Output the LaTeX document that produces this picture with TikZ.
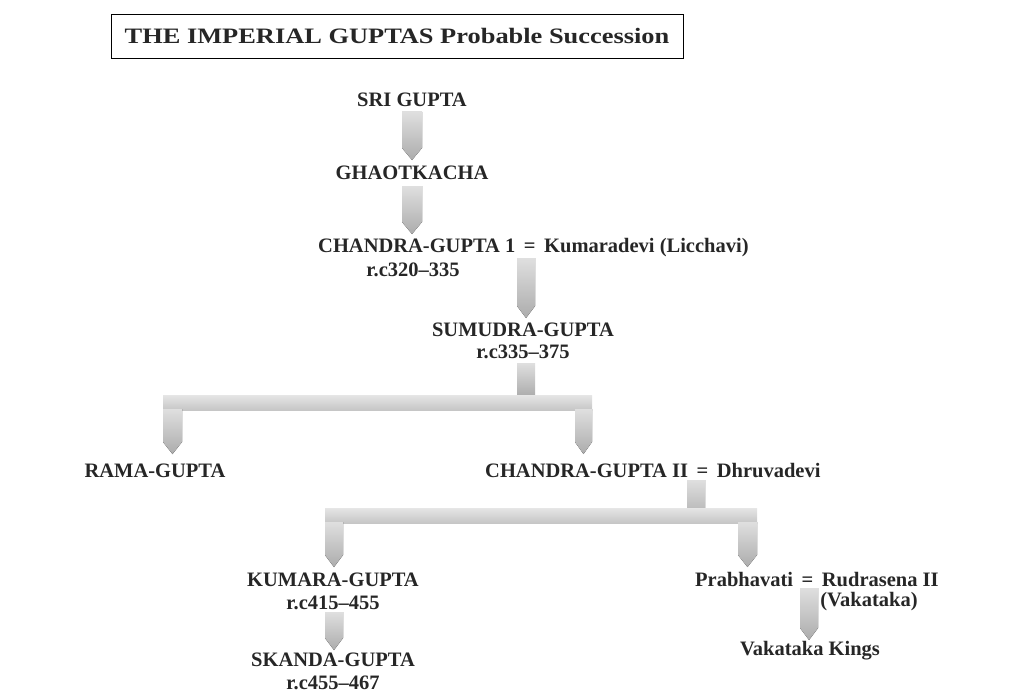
\documentclass[tikz,border=0pt]{standalone}
\usepackage{fontspec}
\setmainfont{Liberation Serif}
\newfontfamily\titlefont[FakeStretch=1.2]{Liberation Serif}
\begin{document}
\begin{tikzpicture}[x=1pt,y=-1pt,
  lbl/.style={font=\bfseries\fontsize{20.5}{22}\selectfont,inner sep=0pt,text=black!85},
  arr/.style={top color=gray!25,bottom color=gray!65,draw=none},
  bar/.style={top color=gray!20,bottom color=gray!45,draw=none}]
\useasboundingbox (0,0) rectangle (1024,698);
\newcommand{\fatarr}[4]{\fill[arr] (#1,#3) -- (#2,#3) -- (#2,#4-12) -- ({(#1+#2)/2},#4) -- (#1,#4-12) -- cycle;}
\node[draw,thick,minimum width=572,minimum height=44,font=\titlefont\bfseries\fontsize{22}{24}\selectfont,text=black!85] (title) at (397,36) {THE IMPERIAL GUPTAS Probable Succession};
\node[lbl] (sri) at (412,100) {SRI GUPTA};
\node[lbl] (gh) at (412,173) {GHAOTKACHA};
\node[lbl,anchor=west] (cg1) at (318,248) {CHANDRA-GUPTA 1 \,=\, Kumaradevi (Licchavi)};
\node[lbl] (cg1d) at (413,270) {r.c320--335};
\node[lbl] (sam) at (523,330) {SUMUDRA-GUPTA};
\node[lbl] (samd) at (523,352) {r.c335--375};
\node[lbl] (rama) at (155,471) {RAMA-GUPTA};
\node[lbl,anchor=west] (cg2) at (485,471) {CHANDRA-GUPTA II \,=\, Dhruvadevi};
\node[lbl] (kg) at (333,580) {KUMARA-GUPTA};
\node[lbl] (kgd) at (333,603) {r.c415--455};
\node[lbl] (sk) at (333,660) {SKANDA-GUPTA};
\node[lbl] (skd) at (333,683) {r.c455--467};
\node[lbl,anchor=west] (pr) at (695,580) {Prabhavati \,=\, Rudrasena II};
\node[lbl] (vk) at (869,602) {(Vakataka)};
\node[lbl] (vkk) at (810,651) {Vakataka Kings};
% connectors
\fatarr{402}{422}{112}{160}
\fatarr{402}{422}{186}{234}
\fatarr{517}{535}{258}{318}
\fill[arr] (517,363) rectangle (535,396);
\fill[bar] (163,395) rectangle (592,410);
\fatarr{163}{182}{409}{454}
\fatarr{575}{592}{409}{454}
\fatarr{687}{705}{480}{522}
\fill[bar] (325,508) rectangle (757,523);
\fatarr{325}{343}{522}{567}
\fatarr{738}{757}{522}{567}
\fatarr{325}{343}{612}{650}
\fatarr{800}{818}{588}{640}
\end{tikzpicture}
\end{document}
